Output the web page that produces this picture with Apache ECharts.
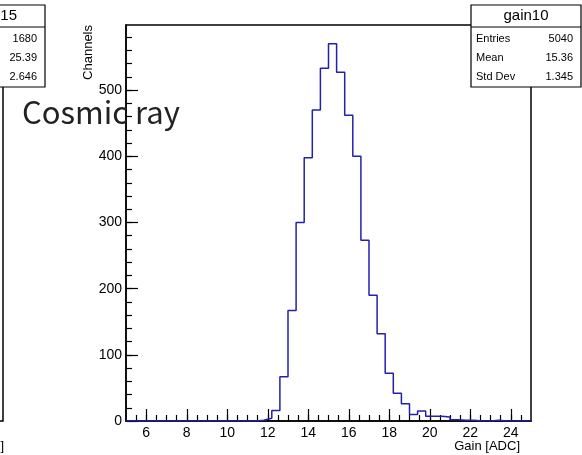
<!DOCTYPE html>
<html>
<head>
<meta charset="utf-8">
<script src="https://cdn.jsdelivr.net/npm/echarts@6/dist/echarts.min.js"></script>
<style>
  html, body { margin: 0; padding: 0; background: #fff; }
  #chart { width: 582px; height: 455px; }
</style>
</head>
<body>
<div id="chart"></div>
<script>
// histogram gain10: 50 bins of 0.4 from 5 to 25
const xMin = 5
const xMax = 25
const binWidth = 0.4
const counts = [
  0, 0, 0, 0, 0, 0, 0, 0, 0, 0,
  0, 0, 0, 0, 0, 0, 1, 4, 16, 67,
  167, 300, 398, 470, 533, 570, 527, 462, 400, 273,
  190, 132, 72, 42, 26, 10, 15, 7, 7, 6,
  2, 1, 1, 0, 0, 1, 0, 0, 0, 0
]
const yMax = 598.5

// tick labels
const xTickValues = [6, 8, 10, 12, 14, 16, 18, 20, 22, 24]
const yTickValues = [0, 100, 200, 300, 400, 500]

// stats boxes
const statLabels = ['Entries', 'Mean', 'Std Dev']
const statsRight = ['5040', '15.36', '1.345']
const statsLeft = ['1680', '25.39', '2.646']

const xMinor = []
for (let v = xMin + 0.5; v < xMax; v += 0.5) xMinor.push(v)
const yMinor = []
for (let v = 20; v < yMax; v += 20) yMinor.push(v)

// step points for the histogram outline
const histPoints = counts.map((c, i) => [xMin + i * binWidth, c])
histPoints.push([xMax, counts[counts.length - 1]])

const font = 'Liberation Sans, Arial, Helvetica, sans-serif'
const chart = echarts.init(document.getElementById('chart'))

function statsBox(x, w, title, values, titleAlign, titleX) {
  const els = [
    { type: 'rect', shape: { x: x, y: 5, width: w, height: 82 },
      style: { fill: '#fff', stroke: '#000', lineWidth: 1.2 }, z: 100 },
    { type: 'line', shape: { x1: x, y1: 27, x2: x + w, y2: 27 },
      style: { stroke: '#000', lineWidth: 1.2 }, z: 101 },
    { type: 'text', x: titleX, y: 16, z: 101,
      style: { text: title, font: '15px ' + font, fill: '#000', align: titleAlign, verticalAlign: 'middle' } }
  ]
  statLabels.forEach((lab, i) => {
    const y = 39 + i * 19
    els.push({ type: 'text', x: x + 5, y: y, z: 101,
      style: { text: lab, font: '11px ' + font, fill: '#000', align: 'left', verticalAlign: 'middle' } })
    els.push({ type: 'text', x: x + w - 8, y: y, z: 101,
      style: { text: values[i], font: '11px ' + font, fill: '#000', align: 'right', verticalAlign: 'middle' } })
  })
  return els
}

const option = {
  animation: false,
  grid: { left: 126, right: 51, top: 25, bottom: 34, show: true, borderColor: '#000', borderWidth: 1.5, backgroundColor: 'transparent' },
  xAxis: [
    {
      type: 'value', min: xMin, max: xMax,
      axisLine: { show: true, lineStyle: { color: '#000', width: 1.5 } },
      axisTick: { show: true, inside: true, length: 12, customValues: xTickValues, lineStyle: { color: '#000', width: 1.2 } },
      axisLabel: { show: true, customValues: xTickValues, color: '#000', fontSize: 14, fontFamily: font, margin: 5 },
      splitLine: { show: false }
    },
    {
      type: 'value', min: xMin, max: xMax, position: 'bottom',
      axisLine: { show: false },
      axisTick: { show: true, inside: true, length: 6, customValues: xMinor, lineStyle: { color: '#000', width: 1.2 } },
      axisLabel: { show: false },
      splitLine: { show: false }
    }
  ],
  yAxis: [
    {
      type: 'value', min: 0, max: yMax,
      axisLine: { show: true, lineStyle: { color: '#000', width: 1.5 } },
      axisTick: { show: true, inside: true, length: 12, customValues: yTickValues, lineStyle: { color: '#000', width: 1.2 } },
      axisLabel: { show: true, customValues: yTickValues, color: '#000', fontSize: 14, fontFamily: font, margin: 4 },
      splitLine: { show: false }
    },
    {
      type: 'value', min: 0, max: yMax, position: 'left',
      axisLine: { show: false },
      axisTick: { show: true, inside: true, length: 6, customValues: yMinor, lineStyle: { color: '#000', width: 1.2 } },
      axisLabel: { show: false },
      splitLine: { show: false }
    }
  ],
  series: [
    {
      type: 'line', step: 'end', data: histPoints, showSymbol: false, symbol: 'none',
      xAxisIndex: 0, yAxisIndex: 0,
      lineStyle: { color: '#2222a8', width: 1.5 }
    }
  ],
  graphic: [
    // pieces of the neighbouring panel on the left
    { type: 'polyline', shape: { points: [[3, 80], [3, 421], [0, 421]] }, style: { stroke: '#000', lineWidth: 1.5, fill: null }, z: 90 },
    { type: 'text', x: 4, y: 446, z: 90,
      style: { text: 'Gain [ADC]', font: '13px ' + font, fill: '#000', align: 'right', verticalAlign: 'middle' } },
    ...statsBox(-65, 110, 'gain15', statsLeft, 'right', 17),
    ...statsBox(471, 110, 'gain10', statsRight, 'center', 526),
    // axis titles
    { type: 'text', x: 520, y: 446, z: 90,
      style: { text: 'Gain [ADC]', font: '13px ' + font, fill: '#000', align: 'right', verticalAlign: 'middle' } },
    { type: 'text', x: 88, y: 25, rotation: Math.PI / 2, z: 90,
      style: { text: 'Channels', font: '13px ' + font, fill: '#000', align: 'right', verticalAlign: 'middle' } },
    // overlay label
    { type: 'text', x: 22, y: 112, z: 120,
      style: { text: 'Cosmic ray', font: '31px "Noto Sans CJK JP"', fill: '#222', align: 'left', verticalAlign: 'middle' } }
  ]
}

chart.setOption(option)
</script>
</body>
</html>
